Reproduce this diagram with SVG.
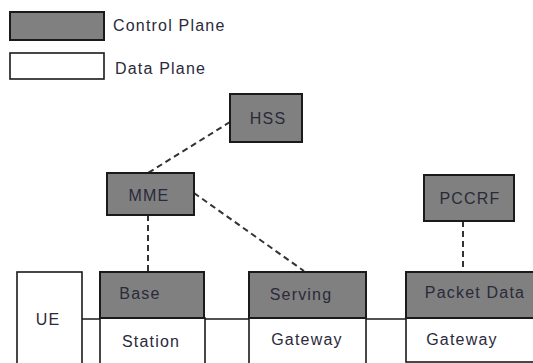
<svg xmlns="http://www.w3.org/2000/svg" width="533" height="363" viewBox="0 0 533 363">
<style>
.cp{fill:#808080;stroke:#1a1a1a;stroke-width:2}
.dp{fill:#fff;stroke:#1a1a1a;stroke-width:1.6}
.t{font-family:"Liberation Sans",Arial,sans-serif;font-size:16px;letter-spacing:1.2px;fill:#2a2a3a}
.m{text-anchor:middle}
.d{fill:none;stroke:#333;stroke-width:2;stroke-dasharray:6,4}
.s{fill:none;stroke:#1a1a1a;stroke-width:1.3}
</style>
<rect width="533" height="363" fill="#fff"/>
<g id="legend">
<rect class="cp" x="10" y="12" width="94" height="28"/>
<text class="t" x="113" y="31">Control Plane</text>
<rect class="dp" x="10" y="53" width="94" height="26"/>
<text class="t" x="115" y="74">Data Plane</text>
</g>
<g id="connectors">
<line class="d" x1="230" y1="122" x2="148" y2="173"/>
<line class="d" x1="194" y1="193" x2="304" y2="271"/>
<line class="d" x1="148" y1="215" x2="148" y2="272"/>
<line class="d" x1="463" y1="221" x2="463" y2="272"/>
<line class="s" x1="82" y1="319" x2="533" y2="319"/>
</g>
<g id="hss">
<rect class="cp" x="230" y="94" width="72" height="48"/>
<text class="t m" x="268" y="124">HSS</text>
</g>
<g id="mme">
<rect class="cp" x="107" y="173" width="87" height="42"/>
<text class="t m" x="149" y="201">MME</text>
</g>
<g id="pccrf">
<rect class="cp" x="424" y="175" width="90" height="46"/>
<text class="t m" x="470" y="204">PCCRF</text>
</g>
<g id="ue">
<rect class="dp" x="17" y="272" width="65" height="100"/>
<text class="t m" x="48" y="325">UE</text>
</g>
<g id="base-station">
<rect class="dp" x="100" y="318" width="105" height="54"/>
<rect class="cp" x="100" y="272" width="104" height="46"/>
<text class="t m" x="140" y="299">Base</text>
<text class="t m" x="151" y="347">Station</text>
</g>
<g id="serving-gateway">
<rect class="dp" x="249" y="318" width="117" height="54"/>
<rect class="cp" x="249" y="272" width="117" height="46"/>
<text class="t m" x="301" y="300">Serving</text>
<text class="t m" x="307" y="345">Gateway</text>
</g>
<g id="packet-data-gateway">
<rect class="dp" x="406" y="318" width="140" height="44"/>
<rect class="cp" x="406" y="272" width="140" height="46"/>
<text class="t m" x="475" y="298">Packet Data</text>
<text class="t m" x="462" y="345">Gateway</text>
</g>
</svg>
